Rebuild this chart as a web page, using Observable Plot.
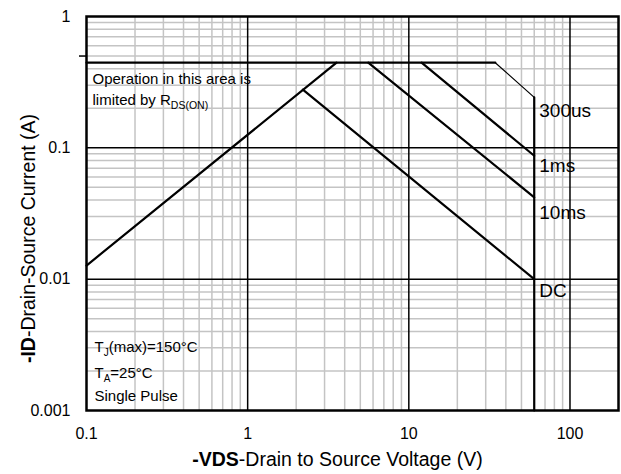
<!DOCTYPE html>
<html><head><meta charset="utf-8">
<script src="https://cdn.jsdelivr.net/npm/d3@7"></script>
<script src="https://cdn.jsdelivr.net/npm/@observablehq/plot@0.6"></script>
<style>body{margin:0;background:#fff;} svg{display:block}</style>
</head><body><div id="chart"></div>
<script>
// tick values
const xTicks = [0.1, 1, 10, 100];
const yTicks = [0.001, 0.01, 0.1, 1];
const xMajorGrid = [1, 10, 100];
const yMajorGrid = [0.01, 0.1];
const xMinorGrid = [0.2,0.3,0.4,0.5,0.6,0.7,0.8,0.9,2,3,4,5,6,7,8,9,20,30,40,50,60,70,80,90];
const yMinorGrid = [0.002,0.003,0.004,0.005,0.006,0.007,0.008,0.009,0.02,0.03,0.04,0.05,0.06,0.07,0.08,0.09,0.2,0.3,0.4,0.5,0.6,0.7,0.8,0.9];
const extraTick = [0.5];

// SOA boundary segments (V, A)
const rdsV = [0.1, 3.56],  rdsI = [0.0127, 0.445];
const limV = [0.1, 34.4],  limI = [0.445, 0.445];
const us300V = [34.4, 60], us300I = [0.445, 0.242];
const ms1V = [12, 60],     ms1I = [0.445, 0.087];
const ms10V = [5.6, 60],   ms10I = [0.445, 0.042];
const dcV = [2.2, 60],     dcI = [0.277, 0.01];
const vmaxV = [60, 60],    vmaxI = [0.001, 0.242];

// curve labels
const curveNames = ["300us", "1ms", "10ms", "DC"];
const curveLabelV = [64.5, 64.5, 64.5, 64.5];
const curveLabelI = [0.19, 0.073, 0.032, 0.0081];

const seg = (name, V, I) => V.map((v, i) => ({name, V: v, I: I[i]}));
const thick = [
  ...seg("rds", rdsV, rdsI), ...seg("lim", limV, limI), ...seg("1ms", ms1V, ms1I),
  ...seg("10ms", ms10V, ms10I), ...seg("dc", dcV, dcI), ...seg("vmax", vmaxV, vmaxI)
];
const thin = seg("300us", us300V, us300I);
const labels = curveNames.map((t, i) => ({t, V: curveLabelV[i], I: curveLabelI[i]}));

const font = "'Liberation Sans', Arial, sans-serif";
const ann = (dx, dy, cls) => ({frameAnchor: "top-left", dx, dy, textAnchor: "start", lineAnchor: "middle", fontSize: 15, fill: "#000", className: cls});

const chart = Plot.plot({
  width: 621, height: 474,
  marginLeft: 86, marginTop: 16, marginRight: 3, marginBottom: 64,
  style: {fontFamily: font, background: "#fff", color: "#000", overflow: "visible"},
  x: {type: "log", domain: [0.1, 200]},
  y: {type: "log", domain: [0.001, 1]},
  marks: [
    Plot.gridX(xMinorGrid, {stroke: "#c4c4c4", strokeOpacity: 1, strokeWidth: 1.5}),
    Plot.gridY(yMinorGrid, {stroke: "#c4c4c4", strokeOpacity: 1, strokeWidth: 1.5}),
    Plot.gridX(xMajorGrid, {stroke: "#000", strokeOpacity: 1, strokeWidth: 1.5}),
    Plot.gridY(yMajorGrid, {stroke: "#000", strokeOpacity: 1, strokeWidth: 1.5}),
    Plot.axisX(xTicks, {tickSize: 0, tickPadding: 17, fontSize: 16, tickFormat: d => String(d), label: null}),
    Plot.axisY(yTicks, {tickSize: 0, tickPadding: 16, fontSize: 16, tickFormat: d => String(d), label: null}),
    Plot.axisY(extraTick, {tickSize: 7, strokeWidth: 1.5, tickFormat: () => "", label: null}),
    Plot.line(thick, {x: "V", y: "I", z: "name", stroke: "#000", strokeWidth: 2.2}),
    Plot.line(thin, {x: "V", y: "I", stroke: "#000", strokeWidth: 1.2}),
    Plot.text(labels, {x: "V", y: "I", text: "t", textAnchor: "start", fontSize: 19, fill: "#000"}),
    Plot.text(["Operation in this area is"], ann(6, 63, "ann-op")),
    Plot.text(["limited by RDS(ON)"], ann(6, 84, "ann-rds")),
    Plot.text(["TJ(max)=150°C"], ann(8, 331, "ann-tj")),
    Plot.text(["TA=25°C"], ann(8, 357, "ann-ta")),
    Plot.text(["Single Pulse"], ann(8, 380, "ann-sp")),
    Plot.text(["-ID-Drain-Source Current (A)"], {frameAnchor: "left", textAnchor: "middle", lineAnchor: "middle", rotate: -90, dx: -58, dy: 25, fontSize: 19.5, fill: "#000", className: "lbl-y"}),
    Plot.text(["-VDS-Drain to Source Voltage (V)"], {frameAnchor: "bottom", textAnchor: "middle", lineAnchor: "middle", dx: -15, dy: 49, fontSize: 19.5, fill: "#000", className: "lbl-x"}),
    Plot.frame({stroke: "#000", strokeWidth: 2.5})
  ]
});

const s = d3.select(chart);
s.selectAll(".ann-rds text").html('limited by R<tspan dy="4" font-size="10.5">DS(ON)</tspan>');
s.selectAll(".ann-tj text").html('T<tspan dy="4" font-size="10">J</tspan><tspan dy="-4">(max)=150°C</tspan>');
s.selectAll(".ann-ta text").html('T<tspan dy="4" font-size="10">A</tspan><tspan dy="-4">=25°C</tspan>');
s.selectAll(".lbl-y text").html('<tspan font-weight="bold">-ID</tspan>-Drain-Source Current (A)');
s.selectAll(".lbl-x text").html('<tspan font-weight="bold">-VDS</tspan>-Drain to Source Voltage (V)');
document.getElementById("chart").append(chart);
</script>
</body></html>
